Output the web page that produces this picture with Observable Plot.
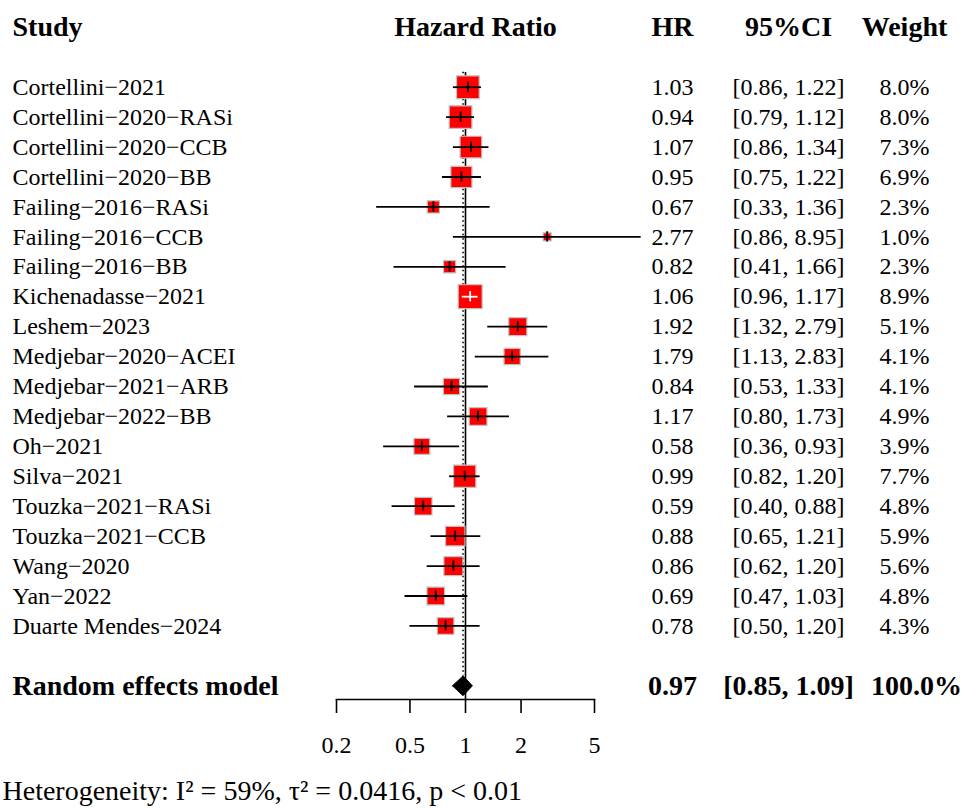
<!DOCTYPE html>
<html>
<head>
<meta charset="utf-8">
<script src="https://cdn.jsdelivr.net/npm/d3@7"></script>
<script src="https://cdn.jsdelivr.net/npm/@observablehq/plot@0.6"></script>
<style>
  html, body { margin: 0; padding: 0; background: #fff; }
  #chart { position: relative; width: 965px; height: 809px; overflow: hidden; }
  #chart svg { position: absolute; top: 0; }
</style>
</head>
<body>
<div id="chart"></div>
<script>
// Forest plot: hazard ratios per study with a random effects summary
const studies = [
  "Cortellini−2021", "Cortellini−2020−RASi", "Cortellini−2020−CCB", "Cortellini−2020−BB",
  "Failing−2016−RASi", "Failing−2016−CCB", "Failing−2016−BB", "Kichenadasse−2021",
  "Leshem−2023", "Medjebar−2020−ACEI", "Medjebar−2021−ARB", "Medjebar−2022−BB",
  "Oh−2021", "Silva−2021", "Touzka−2021−RASi", "Touzka−2021−CCB",
  "Wang−2020", "Yan−2022", "Duarte Mendes−2024"
];
const hr    = [1.03, 0.94, 1.07, 0.95, 0.67, 2.77, 0.82, 1.06, 1.92, 1.79, 0.84, 1.17, 0.58, 0.99, 0.59, 0.88, 0.86, 0.69, 0.78];
const lower = [0.86, 0.79, 0.86, 0.75, 0.33, 0.86, 0.41, 0.96, 1.32, 1.13, 0.53, 0.80, 0.36, 0.82, 0.40, 0.65, 0.62, 0.47, 0.50];
const upper = [1.22, 1.12, 1.34, 1.22, 1.36, 8.95, 1.66, 1.17, 2.79, 2.83, 1.33, 1.73, 0.93, 1.20, 0.88, 1.21, 1.20, 1.03, 1.20];
const weight = [8.0, 8.0, 7.3, 6.9, 2.3, 1.0, 2.3, 8.9, 5.1, 4.1, 4.1, 4.9, 3.9, 7.7, 4.8, 5.9, 5.6, 4.8, 4.3];

const pooledLabel = "Random effects model";
const pooled = {hr: 0.97, lower: 0.85, upper: 1.09, weight: 100.0};
const heterogeneity = "Heterogeneity: I² = 59%, τ² = 0.0416, p < 0.01";

const tickValues = [0.2, 0.5, 1, 2, 5];
const tickLabels = ["0.2", "0.5", "1", "2", "5"];
const columns = ["HR", "95%CI", "Weight"];

// Layout (rows are indexed; header sits two rows above the first study)
const W = 965, H = 809;
const headerRow = -2, pooledRow = studies.length + 1, noteRow = pooledRow + 3.5;
const font = "'Liberation Serif', 'Times New Roman', serif";
const yOpts = {type: "linear", domain: [0, pooledRow], range: [86.7, 685.3], axis: null};
const xOpts = {type: "log", domain: [tickValues[0], tickValues[tickValues.length - 1]], range: [36, 294]};
const rOpts = {type: "sqrt", domain: [0, d3.max(weight)], range: [0, 13.5]};

const fmt2 = v => v.toFixed(2);
const rows = studies.map((name, i) => ({
  name, i, hr: hr[i], lower: lower[i], upper: upper[i], weight: weight[i]
}));

// The CI line is drawn white when it lies wholly inside its box
const xs = Plot.scale({x: xOpts});
const rs = Plot.scale({r: rOpts});
rows.forEach(d => {
  const half = rs.apply(d.weight) * Math.sqrt(Math.PI) / 2;
  const c = xs.apply(d.hr);
  d.inside = (c - xs.apply(d.lower)) < half && (xs.apply(d.upper) - c) < half;
});

const chart = document.getElementById("chart");

// Left panel: headings, study names, summary label and heterogeneity note
const left = Plot.plot({
  width: W, height: H, margin: 0, marginLeft: 12,
  y: yOpts,
  style: {fontFamily: font, background: "white", color: "#000"},
  marks: [
    Plot.text(["Study"], {y: () => headerRow, text: d => d, frameAnchor: "left", textAnchor: "start", fontSize: 28, fontWeight: "bold"}),
    Plot.text(rows, {y: "i", text: "name", frameAnchor: "left", textAnchor: "start", fontSize: 24}),
    Plot.text([pooledLabel], {y: () => pooledRow, text: d => d, frameAnchor: "left", textAnchor: "start", fontSize: 28, fontWeight: "bold"}),
    Plot.text([heterogeneity], {y: () => noteRow, text: d => d, frameAnchor: "left", textAnchor: "start", dx: -10, fontSize: 28})
  ]
});
left.style.left = "0px";
chart.appendChild(left);

// Middle panel: boxes, confidence intervals, diamond and log axis
const diamondH = 0.33;
const diamond = [
  {x: pooled.lower, y: pooledRow},
  {x: pooled.hr, y: pooledRow - diamondH},
  {x: pooled.upper, y: pooledRow},
  {x: pooled.hr, y: pooledRow + diamondH},
  {x: pooled.lower, y: pooledRow}
];
const forest = Plot.plot({
  width: 350, height: H,
  marginLeft: 36, marginRight: 56, marginTop: 72, marginBottom: 110,
  x: xOpts, y: yOpts, r: rOpts,
  style: {fontFamily: font, fontSize: "24px", background: "transparent", color: "#000"},
  marks: [
    Plot.frame({anchor: "bottom", strokeWidth: 1.6}),
    Plot.axisX({ticks: tickValues, tickFormat: d => tickLabels[tickValues.indexOf(d)], tickSize: 14, tickPadding: 22, strokeWidth: 1.6, fontSize: 24}),
    Plot.ruleX([1], {strokeWidth: 1.6}),
    Plot.ruleX([pooled.hr], {y1: -0.5, y2: pooledRow - diamondH, strokeWidth: 1.6, strokeDasharray: "1.5,3"}),
    Plot.dot(rows, {x: "hr", y: "i", r: "weight", symbol: "square", fill: "#ff0000", stroke: "#c0c0c0", strokeWidth: 1.2}),
    Plot.ruleY(rows, {y: "i", x1: "lower", x2: "upper", stroke: d => d.inside ? "white" : "black", strokeWidth: 1.8}),
    Plot.ruleX(rows, {x: "hr", y1: d => d.i - 0.17, y2: d => d.i + 0.17, stroke: d => d.inside ? "white" : "black", strokeWidth: 1.8}),
    Plot.line(diamond, {x: "x", y: "y", fill: "black", stroke: "black", strokeWidth: 1}),
    Plot.text(["Hazard Ratio"], {x: () => 1, y: () => headerRow, text: d => d, dx: 10, fontSize: 28, fontWeight: "bold"})
  ]
});
forest.style.left = "300px";
chart.appendChild(forest);

// Right panel: HR, 95% CI and weight columns
const cells = [];
rows.forEach(d => {
  cells.push({col: columns[0], row: d.i, label: fmt2(d.hr)});
  cells.push({col: columns[1], row: d.i, label: `[${fmt2(d.lower)}, ${fmt2(d.upper)}]`});
  cells.push({col: columns[2], row: d.i, label: `${d.weight.toFixed(1)}%`});
});
const pooledCells = [
  {col: columns[0], row: pooledRow, label: fmt2(pooled.hr)},
  {col: columns[1], row: pooledRow, label: `[${fmt2(pooled.lower)}, ${fmt2(pooled.upper)}]`}
];
const pooledWeight = [{col: columns[2], row: pooledRow, label: `${pooled.weight.toFixed(1)}%`}];
const table = Plot.plot({
  width: 345, height: H, margin: 0,
  x: {type: "point", domain: columns, range: [52, 284], padding: 0, axis: null},
  y: yOpts,
  style: {fontFamily: font, background: "transparent", color: "#000"},
  marks: [
    Plot.text(columns, {x: d => d, y: () => headerRow, text: d => d, fontSize: 28, fontWeight: "bold"}),
    Plot.text(cells, {x: "col", y: "row", text: "label", fontSize: 24}),
    Plot.text(pooledCells, {x: "col", y: "row", text: "label", fontSize: 28, fontWeight: "bold"}),
    Plot.text(pooledWeight, {x: "col", y: "row", text: "label", dx: 12, fontSize: 28, fontWeight: "bold"})
  ]
});
table.style.left = "620px";
chart.appendChild(table);
</script>
</body>
</html>
